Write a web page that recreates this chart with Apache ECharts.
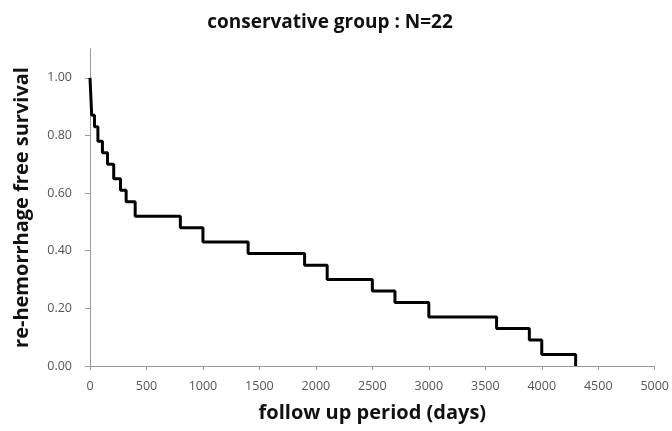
<!DOCTYPE html>
<html>
<head>
<meta charset="utf-8">
<script src="https://cdn.jsdelivr.net/npm/echarts@6/dist/echarts.min.js"></script>
<style>
  html, body { margin: 0; padding: 0; background: #fff; }
  #chart { width: 672px; height: 431px; }
</style>
</head>
<body>
<div id="chart"></div>
<script>
// follow up days where the survival drops, and the survival after each drop
const days = [0, 15, 40, 70, 110, 155, 210, 270, 320, 400, 800, 1000, 1400, 1900, 2100, 2500, 2700, 3000, 3600, 3890, 4000, 4300]
const survival = [1.00, 0.87, 0.83, 0.78, 0.74, 0.70, 0.65, 0.61, 0.57, 0.52, 0.48, 0.43, 0.39, 0.35, 0.30, 0.26, 0.22, 0.17, 0.13, 0.09, 0.04, 0.00]
const yTicks = [0, 0.2, 0.4, 0.6, 0.8, 1.0]

const chart = echarts.init(document.getElementById('chart'))
const font = '"Open Sans", "Noto Sans", sans-serif'

chart.setOption({
  animation: false,
  title: {
    text: 'conservative group : N=22',
    left: 325,
    top: 8,
    textAlign: 'center',
    textStyle: { fontFamily: font, fontSize: 19, fontWeight: 'bold', color: '#111' },
  },
  grid: { left: 90, right: 17, top: 49, bottom: 65 },
  xAxis: {
    type: 'value',
    min: 0,
    max: 5000,
    interval: 500,
    name: 'follow up period (days)',
    nameLocation: 'middle',
    nameGap: 37,
    nameTextStyle: { fontFamily: font, fontSize: 20, fontWeight: 'bold', color: '#111' },
    axisLine: { show: true, lineStyle: { color: '#999', width: 1 } },
    axisTick: { show: true, length: 4, lineStyle: { color: '#999' } },
    axisLabel: { fontFamily: font, fontSize: 12.5, color: '#555', margin: 14, formatter: (v) => String(v) },
    splitLine: { show: false },
  },
  yAxis: {
    type: 'value',
    min: 0,
    max: 1.1,
    name: 're-hemorrhage free survival',
    nameLocation: 'middle',
    nameGap: 58,
    nameTextStyle: { fontFamily: font, fontSize: 20, fontWeight: 'bold', color: '#111' },
    axisLine: { show: true, lineStyle: { color: '#999', width: 1 } },
    axisTick: { show: true, length: 5, customValues: yTicks, lineStyle: { color: '#999' } },
    axisLabel: {
      fontFamily: font, fontSize: 12.5, color: '#555', margin: 18,
      customValues: yTicks,
      formatter: (v) => v.toFixed(2),
    },
    splitLine: { show: false },
  },
  series: [
    {
      type: 'line',
      step: 'end',
      data: days.map((d, i) => [d, survival[i]]),
      showSymbol: false,
      symbol: 'none',
      lineStyle: { color: '#000', width: 3 },
    },
  ],
})
</script>
</body>
</html>
